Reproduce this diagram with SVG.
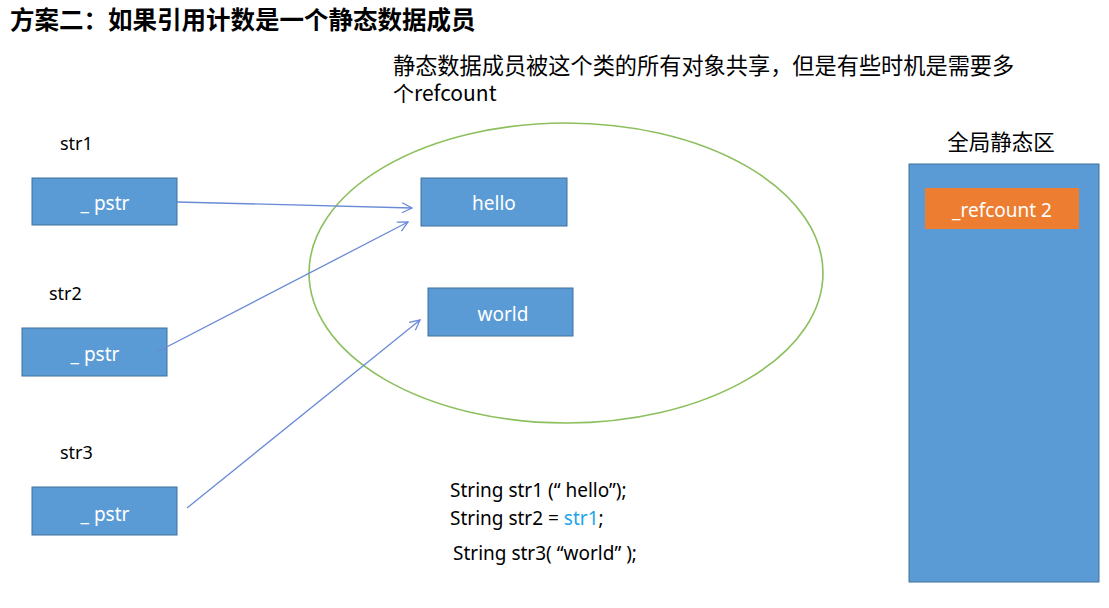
<svg xmlns="http://www.w3.org/2000/svg" width="1109" height="608" viewBox="0 0 1109 608">
<defs>
<style>
text{font-family:"Noto Sans","Noto Sans CJK SC",sans-serif;}
.t{font-size:18px;fill:#000;}
.box{fill:#5B9BD5;stroke:#41719C;stroke-width:1;}
.bl{font-size:19px;fill:#fff;text-anchor:middle;}
.code{font-size:19px;fill:#000;}
.con{stroke:#6A8AD8;stroke-width:1.3;fill:none;marker-end:url(#arr);}
.cjk{font-family:"Noto Sans CJK SC",sans-serif;}
</style>
<marker id="arr" viewBox="0 0 12 12" refX="11" refY="6" markerWidth="12" markerHeight="12" markerUnits="userSpaceOnUse" orient="auto">
<path d="M1,1 L11,6 L1,11" fill="none" stroke="#6A8AD8" stroke-width="1.3"/>
</marker>
</defs>
<rect width="1109" height="608" fill="#fff"/>
<text x="10" y="29" class="cjk" style="font-size:24.5px;font-weight:bold">方案二：如果引用计数是一个静态数据成员</text>
<text x="393" y="74" class="cjk" style="font-size:22.2px">静态数据成员被这个类的所有对象共享，但是有些时机是需要多</text>
<text x="393" y="101" class="cjk" style="font-size:21px">个refcount</text>
<g id="ellipse"><ellipse cx="566" cy="273" rx="257" ry="150" fill="none" stroke="#8CBF5E" stroke-width="1.6"/></g>
<g id="static-area">
<rect x="909" y="164" width="190" height="418" class="box"/>
<text x="1001" y="150" class="cjk" style="font-size:21.5px;text-anchor:middle">全局静态区</text>
</g>
<g id="refcount">
<rect x="925" y="188" width="154" height="41" fill="#ED7D31"/>
<text x="1002" y="217" class="bl">_refcount  2</text>
</g>
<g id="str1">
<text x="60" y="150" class="t">str1</text>
<rect x="32" y="178" width="145" height="47" class="box"/>
<text x="105" y="210" class="bl">_ pstr</text>
</g>
<g id="str2">
<text x="49" y="300" class="t">str2</text>
<rect x="22" y="328" width="145" height="48" class="box"/>
<text x="95" y="361" class="bl">_ pstr</text>
</g>
<g id="str3">
<text x="60" y="459" class="t">str3</text>
<rect x="32" y="487" width="145" height="48" class="box"/>
<text x="105" y="521" class="bl">_ pstr</text>
</g>
<g id="hello">
<rect x="421" y="178" width="146" height="48" class="box"/>
<text x="494" y="210" class="bl">hello</text>
</g>
<g id="world">
<rect x="428" y="288" width="145" height="48" class="box"/>
<text x="503" y="321" class="bl">world</text>
</g>
<g id="connectors">
<line x1="177" y1="202" x2="412" y2="208" class="con"/>
<line x1="157" y1="352" x2="408" y2="222" class="con"/>
<line x1="187" y1="508" x2="420" y2="320" class="con"/>
</g>
<g id="code">
<text x="450" y="497" class="code">String str1 (“ hello”);</text>
<text x="450" y="525" class="code">String str2 = <tspan fill="#1CA3EC">str1</tspan>;</text>
<text x="453" y="560" class="code">String str3( “world” );</text>
</g>
</svg>
